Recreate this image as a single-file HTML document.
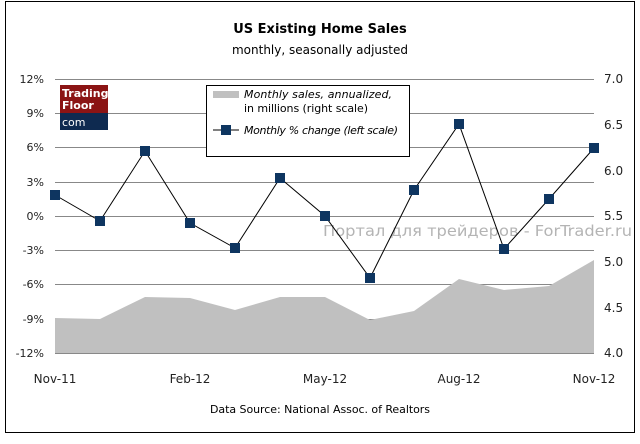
<!DOCTYPE html>
<html><head><style>
body{margin:0;background:#fff;}
svg text{font-family:"DejaVu Sans","Liberation Sans",sans-serif;}
</style></head><body>
<svg width="640" height="439" xmlns="http://www.w3.org/2000/svg">
<rect x="0" y="0" width="640" height="439" fill="#fff"/>
<rect x="5.5" y="1.5" width="629" height="431" fill="none" stroke="#000" stroke-width="1"/>
<text x="320" y="33" text-anchor="middle" font-size="13" font-weight="bold">US Existing Home Sales</text>
<text x="320" y="54" text-anchor="middle" font-size="12">monthly, seasonally adjusted</text>
<g stroke="#888" stroke-width="1">
<line x1="55" y1="79.5" x2="594" y2="79.5"/><line x1="55" y1="113.5" x2="594" y2="113.5"/>
<line x1="55" y1="147.5" x2="594" y2="147.5"/><line x1="55" y1="182.5" x2="594" y2="182.5"/>
<line x1="55" y1="216.5" x2="594" y2="216.5"/><line x1="55" y1="250.5" x2="594" y2="250.5"/>
<line x1="55" y1="284.5" x2="594" y2="284.5"/><line x1="55" y1="319.5" x2="594" y2="319.5"/>
</g>
<polygon fill="#c0c0c0" points="55,354 55,318 100,319 145,297 190,298 235,310 280,297 325,297 370,320 414,311 459,279 504,290 549,286 594,260 594,354"/>
<line x1="55" y1="353.5" x2="594" y2="353.5" stroke="#888"/>
<g font-size="11" fill="#222" text-anchor="end">
<text x="44" y="83">12%</text><text x="44" y="117">9%</text><text x="44" y="151">6%</text>
<text x="44" y="186">3%</text><text x="44" y="220">0%</text><text x="44" y="254">-3%</text>
<text x="44" y="288">-6%</text><text x="44" y="323">-9%</text><text x="44" y="357">-12%</text>
</g>
<g font-size="12" fill="#222">
<text x="604" y="83">7.0</text><text x="604" y="129">6.5</text><text x="604" y="175">6.0</text>
<text x="604" y="220">5.5</text><text x="604" y="266">5.0</text><text x="604" y="312">4.5</text>
<text x="604" y="357">4.0</text>
</g>
<g font-size="12" fill="#222" text-anchor="middle">
<text x="55" y="383">Nov-11</text><text x="190" y="383">Feb-12</text><text x="325" y="383">May-12</text>
<text x="459" y="383">Aug-12</text><text x="594" y="383">Nov-12</text>
</g>
<text x="320" y="413" text-anchor="middle" font-size="11" textLength="220">Data Source: National Assoc. of Realtors</text>
<text x="323" y="236" font-size="15" fill="#b4b4b4" textLength="309" lengthAdjust="spacingAndGlyphs">Портал для трейдеров - ForTrader.ru</text>
<polyline fill="none" stroke="#000" stroke-width="1" points="55,195 100,221 145,151 190,223 235,248 280,178 325,216 370,278 414,190 459,124 504,249 549,199 594,148"/>
<g fill="#0e3560">
<rect x="50" y="190" width="10" height="10"/><rect x="95" y="216" width="10" height="10"/>
<rect x="140" y="146" width="10" height="10"/><rect x="185" y="218" width="10" height="10"/>
<rect x="230" y="243" width="10" height="10"/><rect x="275" y="173" width="10" height="10"/>
<rect x="320" y="211" width="10" height="10"/><rect x="365" y="273" width="10" height="10"/>
<rect x="409" y="185" width="10" height="10"/><rect x="454" y="119" width="10" height="10"/>
<rect x="499" y="244" width="10" height="10"/><rect x="544" y="194" width="10" height="10"/>
<rect x="589" y="143" width="10" height="10"/>
</g>
<rect x="60" y="85" width="48" height="28" fill="#8b1414"/>
<rect x="60" y="113" width="48" height="17" fill="#0e2a50"/>
<text x="62" y="97" font-size="11" font-weight="bold" fill="#fff">Trading</text>
<text x="62" y="109" font-size="11" font-weight="bold" fill="#fff">Floor</text>
<text x="62" y="126" font-size="11" fill="#fff">com</text>
<rect x="206.5" y="85.5" width="203" height="71" fill="#fff" stroke="#000"/>
<rect x="213" y="91" width="26" height="7" fill="#c0c0c0"/>
<text x="244" y="98" font-size="11" font-style="italic" textLength="148">Monthly sales, annualized,</text>
<text x="244" y="112" font-size="11" textLength="124">in millions (right scale)</text>
<line x1="213" y1="130" x2="239" y2="130" stroke="#000"/>
<rect x="221" y="125" width="10" height="10" fill="#0e3560"/>
<text x="244" y="134" font-size="11" font-style="italic" textLength="154">Monthly % change (left scale)</text>
</svg>
</body></html>
